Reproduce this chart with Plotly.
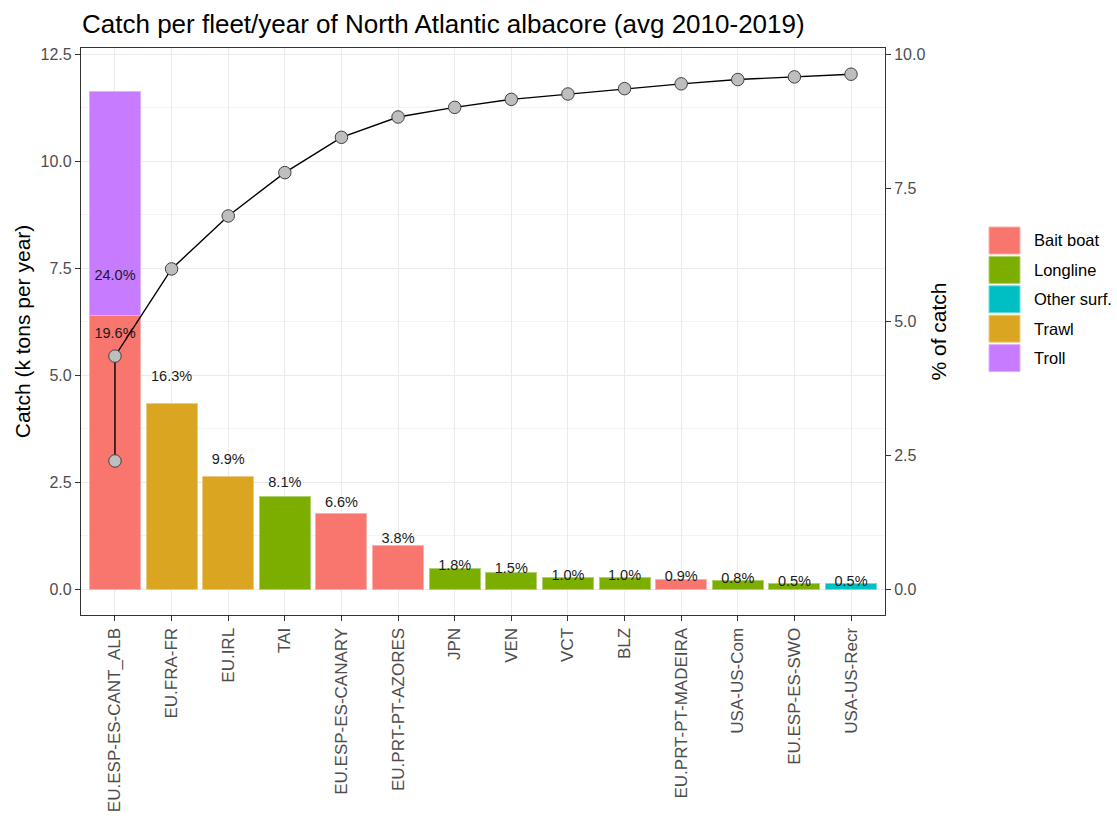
import plotly.graph_objects as go

# Average yearly catch 2010-2019 by fleet and gear (share of total North Atlantic catch, %)
fleets = ["EU.ESP-ES-CANT_ALB", "EU.ESP-ES-CANT_ALB", "EU.FRA-FR", "EU.IRL", "TAI",
          "EU.ESP-ES-CANARY", "EU.PRT-PT-AZORES", "JPN", "VEN", "VCT", "BLZ",
          "EU.PRT-PT-MADEIRA", "USA-US-Com", "EU.ESP-ES-SWO", "USA-US-Recr"]
gears = ["Bait boat", "Troll", "Trawl", "Trawl", "Longline", "Bait boat", "Bait boat",
         "Longline", "Longline", "Longline", "Longline", "Bait boat", "Longline",
         "Longline", "Other surf."]
pct = [24.0, 19.6, 16.3, 9.9, 8.1, 6.6, 3.8, 1.8, 1.5, 1.0, 1.0, 0.9, 0.8, 0.5, 0.5]
total_catch_kt = 26.7  # all fleets, k tons per year

gear_levels = ["Bait boat", "Longline", "Other surf.", "Trawl", "Troll"]
gear_colors = {"Bait boat": "#F8766D", "Longline": "#7CAE00", "Other surf.": "#00BFC4",
               "Trawl": "#DAA520", "Troll": "#C77CFF"}
edge_colors = {"Bait boat": "#FBB0AA", "Longline": "#B0D070", "Other surf.": "#70DCDE",
               "Trawl": "#EACB80", "Troll": "#DDB0FF"}

catch_kt = [p * total_catch_kt / 100 for p in pct]
cum_pct = []
run = 0.0
for p in pct:
    run += p
    cum_pct.append(run / 10)

categories = list(dict.fromkeys(fleets))
label_lift = 1.14

FONT = "Liberation Sans, Arial"

fig = go.Figure()

# bars, stacked per gear (bait boat below troll for the first fleet)
for g in ["Bait boat", "Troll", "Trawl", "Longline", "Other surf."]:
    xs = [f for f, gg in zip(fleets, gears) if gg == g]
    ys = [c for c, gg in zip(catch_kt, gears) if gg == g]
    fig.add_trace(go.Bar(x=xs, y=ys, name=g, marker=dict(color=gear_colors[g],
                         line=dict(color=edge_colors[g], width=1)),
                         showlegend=False, hoverinfo="x+y+name"))

# percentage labels
fig.add_trace(go.Scatter(
    x=fleets, y=[c * label_lift for c in catch_kt], mode="text",
    text=[f"{p:.1f}%" for p in pct], textposition="middle center",
    textfont=dict(family=FONT, size=14.5, color="#1A1A1A"),
    showlegend=False, hoverinfo="skip"))

# cumulative share line on the secondary axis
fig.add_trace(go.Scatter(
    x=fleets, y=cum_pct, mode="lines+markers", yaxis="y2",
    line=dict(color="#000000", width=1.4),
    marker=dict(size=12.5, color="#BEBEBE", line=dict(color="#404040", width=1)),
    showlegend=False))

axis_font = dict(family=FONT, size=16, color="#4D4D4D")
xtick_font = dict(family=FONT, size=17, color="#4D4D4D")
title_font = dict(family=FONT, size=21, color="#000000")

fig.update_layout(
    width=1117, height=819,
    margin=dict(l=81, r=232, t=48, b=204),
    paper_bgcolor="white", plot_bgcolor="white",
    barmode="stack", bargap=0.1,
    title=dict(text="Catch per fleet/year of North Atlantic albacore (avg 2010-2019)",
               font=dict(family=FONT, size=26, color="#000000"),
               xref="container", yref="container", x=82 / 1117, xanchor="left",
               y=1 - 24 / 819, yanchor="middle"),
    xaxis=dict(categoryorder="array", categoryarray=categories, type="category",
               range=[-0.6, len(categories) - 0.4], tickangle=-90, automargin=False,
               tickfont=xtick_font, ticks="outside", ticklen=5, tickcolor="#333333",
               showgrid=True, gridcolor="#EBEBEB", gridwidth=1.1,
               showline=True, linecolor="#333333", linewidth=1.2, mirror=True,
               zeroline=False),
    yaxis=dict(range=[-0.6, 12.65], tickvals=[0, 2.5, 5, 7.5, 10, 12.5], automargin=False,
               tickformat=".1f", tickfont=axis_font, ticks="outside", ticklen=5,
               tickcolor="#333333", showgrid=True, gridcolor="#EBEBEB", gridwidth=1.1,
               minor=dict(tickvals=[1.25, 3.75, 6.25, 8.75, 11.25], showgrid=True,
                          gridcolor="#F3F3F3", gridwidth=0.6, ticks=""),
               showline=True, linecolor="#333333", linewidth=1.2, mirror=True,
               zeroline=False,
               title=dict(text="Catch (k tons per year)", font=title_font, standoff=4)),
    yaxis2=dict(overlaying="y", side="right", range=[-0.48, 10.12], automargin=False,
                tickvals=[0, 2.5, 5, 7.5, 10], tickformat=".1f", tickfont=axis_font,
                ticks="outside", ticklen=5, tickcolor="#333333", showgrid=False,
                zeroline=False,
                title=dict(text="% of catch", font=title_font, standoff=6)),
)

# legend keys
key_x0, key_w, key_h, key_step, key_top = 989, 31, 27, 29.4, 227
for i, g in enumerate(gear_levels):
    y0 = key_top + i * key_step
    fig.add_shape(type="rect", xref="paper", yref="paper",
                  x0=(key_x0 - 81) / 804, x1=(key_x0 + key_w - 81) / 804,
                  y0=(615 - y0) / 567, y1=(615 - y0 - key_h) / 567,
                  fillcolor=gear_colors[g], line=dict(color=edge_colors[g], width=1))
    fig.add_annotation(text=g, xref="paper", yref="paper", showarrow=False,
                       x=(key_x0 + key_w + 12 - 81) / 804, xanchor="left",
                       y=(615 - y0 - key_h / 2) / 567, yanchor="middle",
                       font=dict(family=FONT, size=16.5, color="#000000"))

fig.write_html("out.html")
